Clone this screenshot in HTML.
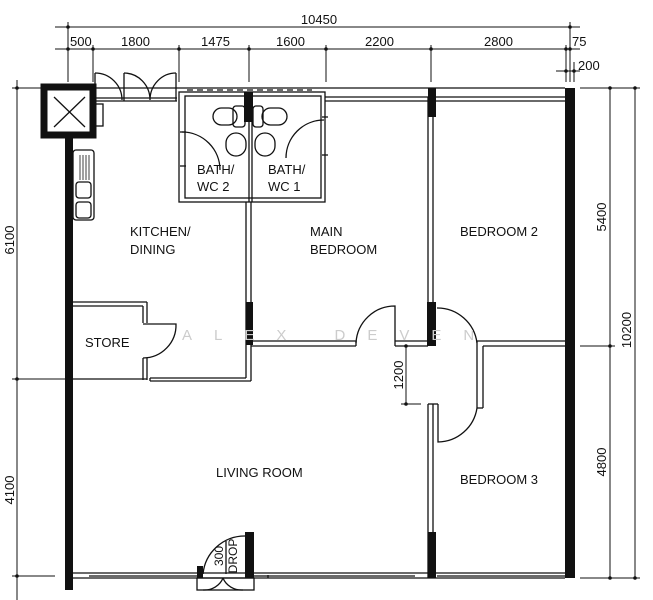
<!DOCTYPE html>
<html><head><style>html,body{margin:0;padding:0;background:#fff}svg{display:block}text{font-family:"Liberation Sans",sans-serif;fill:#111}</style></head>
<body>
<svg width="653" height="600" viewBox="0 0 653 600" xmlns="http://www.w3.org/2000/svg">
<g stroke="#111" stroke-width="1" fill="none">
<line x1="55" y1="27" x2="580" y2="27"/>
<line x1="55" y1="49" x2="580" y2="49"/>
<line x1="68" y1="22" x2="68" y2="82"/>
<line x1="570" y1="22" x2="570" y2="82"/>
<line x1="93" y1="45" x2="93" y2="82"/>
<line x1="179" y1="45" x2="179" y2="82"/>
<line x1="249" y1="45" x2="249" y2="82"/>
<line x1="326" y1="45" x2="326" y2="82"/>
<line x1="431" y1="45" x2="431" y2="82"/>
<line x1="566" y1="45" x2="566" y2="82"/>
<line x1="574" y1="62" x2="574" y2="82"/>
<line x1="556" y1="71" x2="580" y2="71"/>
<line x1="17" y1="80" x2="17" y2="600"/>
<line x1="12" y1="88" x2="45" y2="88"/>
<line x1="12" y1="379" x2="65" y2="379"/>
<line x1="12" y1="576" x2="55" y2="576"/>
<line x1="610" y1="88" x2="610" y2="578"/>
<line x1="635" y1="88" x2="635" y2="578"/>
<line x1="580" y1="88" x2="640" y2="88"/>
<line x1="580" y1="346" x2="615" y2="346"/>
<line x1="580" y1="578" x2="640" y2="578"/>
<line x1="406" y1="346" x2="406" y2="404"/>
<line x1="401" y1="404" x2="421" y2="404"/>
</g>
<g fill="#111">
<circle cx="68" cy="27" r="1.8"/><circle cx="570" cy="27" r="1.8"/>
<circle cx="68" cy="49" r="1.8"/><circle cx="93" cy="49" r="1.8"/><circle cx="179" cy="49" r="1.8"/><circle cx="249" cy="49" r="1.8"/><circle cx="326" cy="49" r="1.8"/><circle cx="431" cy="49" r="1.8"/><circle cx="566" cy="49" r="1.8"/><circle cx="570" cy="49" r="1.8"/>
<circle cx="566" cy="71" r="1.8"/><circle cx="574" cy="71" r="1.8"/>
<circle cx="17" cy="88" r="1.8"/><circle cx="17" cy="379" r="1.8"/><circle cx="17" cy="576" r="1.8"/>
<circle cx="610" cy="88" r="1.8"/><circle cx="635" cy="88" r="1.8"/><circle cx="610" cy="346" r="1.8"/><circle cx="610" cy="578" r="1.8"/><circle cx="635" cy="578" r="1.8"/>
<circle cx="406" cy="346" r="1.8"/><circle cx="406" cy="404" r="1.8"/>
</g>
<g stroke="#111" stroke-width="1.3" fill="none">
<line x1="93" y1="88" x2="565" y2="88"/>
<line x1="93" y1="98" x2="177" y2="98"/>
<line x1="93" y1="101" x2="177" y2="101"/>
<line x1="325" y1="97" x2="565" y2="97"/>
<line x1="325" y1="101" x2="565" y2="101"/>
<line x1="187" y1="90" x2="312" y2="90" stroke-dasharray="6,4"/>
<rect x="179" y="92" width="146" height="110"/>
<rect x="185" y="96" width="136" height="102"/>
<line x1="249" y1="92" x2="249" y2="202"/>
<line x1="252" y1="92" x2="252" y2="202"/>
<line x1="246" y1="202" x2="246" y2="378"/>
<line x1="251" y1="202" x2="251" y2="381"/>
<line x1="150" y1="378" x2="246" y2="378"/>
<line x1="150" y1="381" x2="251" y2="381"/>
<line x1="150" y1="378" x2="150" y2="381"/>
<line x1="73" y1="302" x2="147" y2="302"/>
<line x1="73" y1="306" x2="143" y2="306"/>
<line x1="143" y1="306" x2="143" y2="323"/><line x1="147" y1="302" x2="147" y2="323"/>
<line x1="143" y1="358" x2="143" y2="380"/><line x1="147" y1="358" x2="147" y2="380"/>
<line x1="73" y1="379" x2="147" y2="379"/>
<path d="M143 324 L176 324 A33 33 0 0 1 143 358"/>
<line x1="251" y1="341" x2="356" y2="341"/><line x1="251" y1="346" x2="356" y2="346"/>
<line x1="356" y1="341" x2="356" y2="346"/>
<path d="M356 343 A39 39 0 0 1 395 306 L395 346"/>
<line x1="395" y1="341" x2="428" y2="341"/><line x1="395" y1="346" x2="428" y2="346"/>
<line x1="428" y1="97" x2="428" y2="346"/><line x1="433" y1="97" x2="433" y2="346"/>
<path d="M437 308 A40 40 0 0 1 477 343"/>
<line x1="477" y1="341" x2="565" y2="341"/><line x1="483" y1="346" x2="565" y2="346"/>
<line x1="477" y1="341" x2="477" y2="408"/><line x1="483" y1="346" x2="483" y2="408"/>
<line x1="477" y1="408" x2="483" y2="408"/>
<path d="M477 408 A40 40 0 0 1 438 442 L438 404"/>
<line x1="428" y1="404" x2="428" y2="578"/><line x1="433" y1="404" x2="433" y2="578"/>
<line x1="428" y1="404" x2="438" y2="404"/>
<line x1="73" y1="573" x2="565" y2="573"/>
<line x1="73" y1="578" x2="565" y2="578"/>
<line x1="89" y1="576" x2="197" y2="576"/>
<line x1="254" y1="576" x2="268" y2="576"/>
<line x1="268" y1="575" x2="268" y2="578"/>
<line x1="268" y1="576" x2="415" y2="576"/>
<line x1="437" y1="576" x2="565" y2="576"/>
<rect x="197" y="578" width="57" height="12"/>
<path d="M203 590 A20 18 0 0 0 223 578 M243 590 A20 18 0 0 1 223 578"/>
<path d="M203 574 A42 42 0 0 1 245 536"/>
<line x1="226" y1="541" x2="226" y2="574"/>
<path d="M182 132 A38 38 0 0 1 220 170"/>
<line x1="180" y1="132" x2="186" y2="132"/><line x1="180" y1="166" x2="186" y2="166"/>
<path d="M324 120 A38 38 0 0 0 286 158"/>
<line x1="322" y1="117" x2="328" y2="117"/><line x1="322" y1="155" x2="328" y2="155"/>
<rect x="213" y="108" width="24" height="17" rx="8.5"/>
<rect x="233" y="106" width="12" height="21" rx="3"/>
<rect x="262" y="108" width="25" height="17" rx="8.5"/>
<rect x="253" y="106" width="10" height="21" rx="3"/>
<rect x="226" y="133" width="20" height="23" rx="10"/>
<rect x="255" y="133" width="20" height="23" rx="10"/>
<line x1="95" y1="73" x2="95" y2="101"/>
<path d="M95 73 A27 27 0 0 1 122 100"/>
<line x1="124" y1="73" x2="124" y2="101"/>
<path d="M124 73 A26 27 0 0 1 150 100 A26 27 0 0 1 176 73"/>
<line x1="176" y1="73" x2="176" y2="101"/>
<rect x="73" y="150" width="21" height="70" rx="3"/>
<rect x="76" y="182" width="15" height="16" rx="3"/>
<rect x="76" y="202" width="15" height="16" rx="3"/>
<rect x="93" y="104" width="10" height="22"/>
<line x1="54" y1="97" x2="85" y2="127"/><line x1="85" y1="97" x2="54" y2="127"/>
</g>
<g fill="#111">
<rect x="44" y="87" width="49" height="48" fill="none" stroke="#111" stroke-width="7"/>
<rect x="65" y="135" width="8" height="455"/>
<rect x="565" y="88" width="10" height="490"/>
<rect x="244" y="92" width="9" height="30"/>
<rect x="428" y="88" width="8" height="29"/>
<rect x="246" y="302" width="7" height="43"/>
<rect x="427" y="302" width="9" height="44"/>
<rect x="428" y="532" width="8" height="46"/>
<rect x="245" y="532" width="9" height="46"/>
<rect x="197" y="566" width="6" height="12"/>
<g stroke="#111" stroke-width="0.8"><line x1="80" y1="155" x2="80" y2="180"/><line x1="83" y1="155" x2="83" y2="180"/><line x1="86" y1="155" x2="86" y2="180"/><line x1="89" y1="155" x2="89" y2="180"/></g>
</g>
<g font-size="13">
<text x="319" y="24" text-anchor="middle">10450</text>
<text x="70" y="46">500</text>
<text x="121" y="46">1800</text>
<text x="201" y="46">1475</text>
<text x="276" y="46">1600</text>
<text x="365" y="46">2200</text>
<text x="484" y="46">2800</text>
<text x="572" y="46">75</text>
<text x="578" y="70">200</text>
<text x="197" y="174">BATH/</text><text x="197" y="191">WC 2</text>
<text x="268" y="174">BATH/</text><text x="268" y="191">WC 1</text>
<text x="130" y="236">KITCHEN/</text><text x="130" y="254">DINING</text>
<text x="310" y="236">MAIN</text><text x="310" y="254">BEDROOM</text>
<text x="460" y="236">BEDROOM 2</text>
<text x="85" y="347">STORE</text>
<text x="216" y="477">LIVING ROOM</text>
<text x="460" y="484">BEDROOM 3</text>
<text transform="translate(14,240) rotate(-90)" text-anchor="middle">6100</text>
<text transform="translate(14,490) rotate(-90)" text-anchor="middle">4100</text>
<text transform="translate(606,217) rotate(-90)" text-anchor="middle">5400</text>
<text transform="translate(606,462) rotate(-90)" text-anchor="middle">4800</text>
<text transform="translate(631,330) rotate(-90)" text-anchor="middle">10200</text>
<text transform="translate(403,375) rotate(-90)" text-anchor="middle">1200</text>
<text transform="translate(223,556) rotate(-90)" font-size="12" text-anchor="middle">300</text>
<text transform="translate(237,556) rotate(-90)" font-size="12" text-anchor="middle">DROP</text>
</g>
<text x="182" y="340" font-size="15" style="fill:#ccc" letter-spacing="22">ALEX  DEVEN</text>
</svg>
</body></html>
